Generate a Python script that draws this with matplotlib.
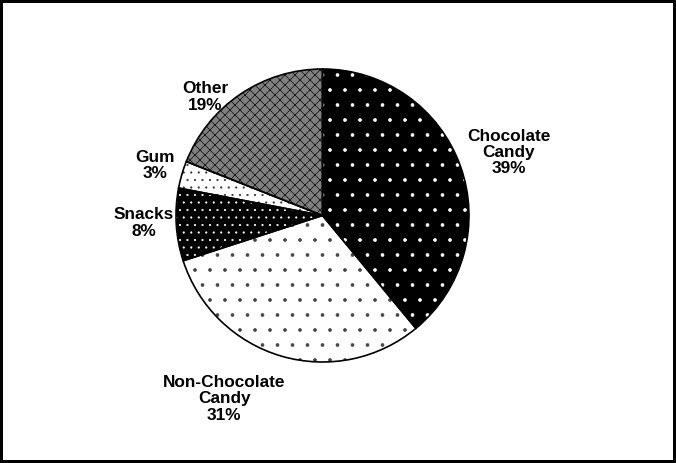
import matplotlib.pyplot as plt

plt.rcParams['font.family'] = ['Liberation Sans', 'DejaVu Sans']
plt.rcParams['hatch.linewidth'] = 0.5

# data
categories = ['Chocolate\nCandy', 'Non-Chocolate\nCandy', 'Snacks', 'Gum', 'Other']
shares = [39, 31, 8, 3, 19]

# styling per slice
face_colors = ['black', 'white', 'black', 'white', '#808080']
hatch_colors = ['white', '#444444', 'white', '#333333', 'black']
hatches = ['.', '.', '..', '..', 'xxx']
# label centers, in pie-radius units from the pie center
label_xy = [(1.27, 0.43), (-0.67, -1.25), (-1.22, -0.05), (-1.14, 0.34), (-0.80, 0.81)]

DPI = 90  # hatch spacing scales with dpi
W, H = 676, 463
cx, cy, R = 322.5, 215.5, 146.5
lim = 1.05
pt = 100 / DPI  # keep sizes as if drawn at 100 dpi

fig = plt.figure(figsize=(W / DPI, H / DPI), dpi=DPI)
fig.patch.set_edgecolor('black')
fig.patch.set_linewidth(3 * pt)
half = R * lim
ax = fig.add_axes([(cx - half) / W, (H - cy - half) / H, 2 * half / W, 2 * half / H])

# base fill
ax.pie(shares, colors=face_colors, startangle=90, counterclock=False,
       wedgeprops=dict(linewidth=0))
# hatch layer
hatch_wedges, _ = ax.pie(shares, colors=['none'] * len(shares), startangle=90,
                         counterclock=False, wedgeprops=dict(linewidth=0))
for w, h, hc in zip(hatch_wedges, hatches, hatch_colors):
    w.set_hatch(h)
    w.set_edgecolor(hc)
    w.set_linewidth(0)
# outlines
ax.pie(shares, colors=['none'] * len(shares), startangle=90, counterclock=False,
       wedgeprops=dict(linewidth=1.2 * pt, edgecolor='black'))

for name, pct, (x, y) in zip(categories, shares, label_xy):
    ax.text(x, y, f'{name}\n{pct}%', ha='center', va='center', fontsize=12.4 * pt,
            fontweight='bold', linespacing=1.12, clip_on=False)

ax.set_xlim(-lim, lim)
ax.set_ylim(-lim, lim)
ax.set_aspect('equal')
ax.axis('off')

fig.savefig('out.png', dpi=DPI)
